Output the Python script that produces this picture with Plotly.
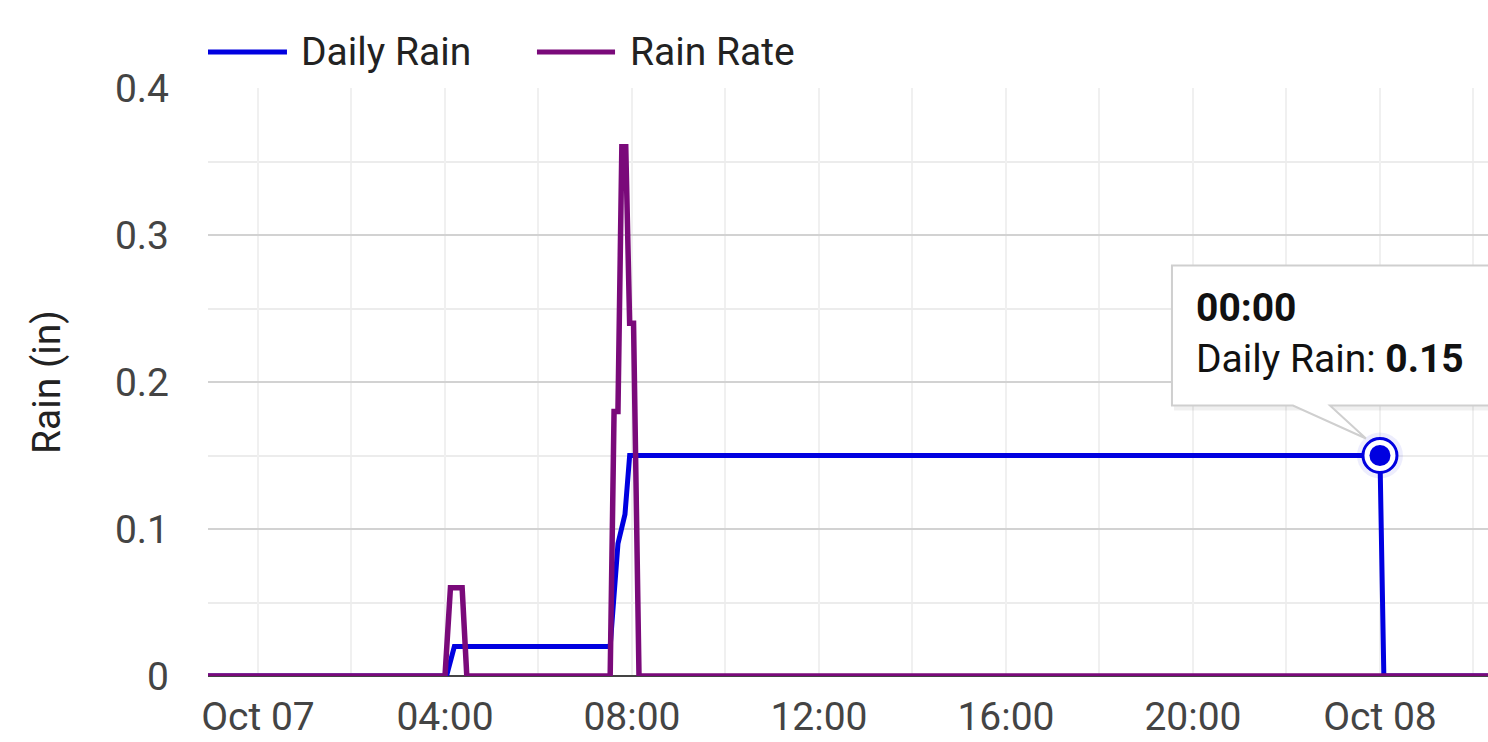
import plotly.graph_objects as go

# ---------------- data ----------------
rate_time = ["2023-10-06 22:40", "2023-10-07 04:00", "2023-10-07 04:07", "2023-10-07 04:22",
             "2023-10-07 04:28", "2023-10-07 07:32", "2023-10-07 07:37", "2023-10-07 07:42",
             "2023-10-07 07:47", "2023-10-07 07:52", "2023-10-07 07:57", "2023-10-07 08:02",
             "2023-10-07 08:09", "2023-10-08 02:40"]
rate_vals = [0, 0, 0.06, 0.06, 0, 0, 0.18, 0.18, 0.36, 0.36, 0.24, 0.24, 0, 0]

daily_time = ["2023-10-06 22:40", "2023-10-07 04:02", "2023-10-07 04:12", "2023-10-07 07:32",
              "2023-10-07 07:42", "2023-10-07 07:51", "2023-10-07 07:57", "2023-10-08 00:00",
              "2023-10-08 00:05", "2023-10-08 02:40"]
daily_vals = [0, 0, 0.02, 0.02, 0.09, 0.11, 0.15, 0.15, 0, 0]

hover_idx = 7  # highlighted Daily Rain point (tooltip)
hover_label = "00:00"

x_tickvals = ["2023-10-07 00:00", "2023-10-07 04:00", "2023-10-07 08:00", "2023-10-07 12:00",
              "2023-10-07 16:00", "2023-10-07 20:00", "2023-10-08 00:00"]
x_ticktext = ["Oct 07", "04:00", "08:00", "12:00", "16:00", "20:00", "Oct 08"]
x_range = ["2023-10-06 22:55:50", "2023-10-08 02:18:40"]
y_range = [0, 0.4]

series_names = ["Daily Rain", "Rain Rate"]
series_colors = ["#0000e0", "#7a0a7a"]

FONT = "Roboto"
FS = 39

fig = go.Figure()

fig.add_trace(go.Scatter(x=daily_time, y=daily_vals, mode="lines", name=series_names[0],
                         line=dict(color=series_colors[0], width=5), showlegend=False))
fig.add_trace(go.Scatter(x=rate_time, y=rate_vals, mode="lines", name=series_names[1],
                         line=dict(color=series_colors[1], width=5.5), showlegend=False))

# highlighted marker (halo, ring, dot)
hx, hy = daily_time[hover_idx], daily_vals[hover_idx]
fig.add_trace(go.Scatter(x=[hx], y=[hy], mode="markers", showlegend=False,
                         marker=dict(size=46, color="rgba(0,0,224,0.07)", line=dict(width=0))))
fig.add_trace(go.Scatter(x=[hx], y=[hy], mode="markers", showlegend=False,
                         marker=dict(size=34, color="white", line=dict(width=3, color=series_colors[0]))))
fig.add_trace(go.Scatter(x=[hx], y=[hy], mode="markers", showlegend=False,
                         marker=dict(size=21, color=series_colors[0], line=dict(width=0))))

shapes = []
# tooltip shadow + box with pointer, anchored at the highlighted point (pixel offsets, +y up)
shadow_path = "M -206,186 L 150,186 L 150,45 L -206,45 Z"
box_path = "M -208,190 L 150,190 L 150,50 L -50,50 L -14,17 L -87,50 L -208,50 Z"
shapes.append(dict(type="path", xref="x", yref="y", xsizemode="pixel", ysizemode="pixel",
                   xanchor=hx, yanchor=hy, path=shadow_path,
                   fillcolor="rgba(0,0,0,0.06)", line=dict(width=0), layer="above"))
shapes.append(dict(type="path", xref="x", yref="y", xsizemode="pixel", ysizemode="pixel",
                   xanchor=hx, yanchor=hy, path=box_path,
                   fillcolor="white", line=dict(color="#cfcfcf", width=2), layer="above"))

# custom legend
leg_items = [(0.0, 0.0617, 0.0711), (0.257, 0.318, 0.328)]
annotations = []
for (x0, x1, xt), name, col in zip(leg_items, series_names, series_colors):
    shapes.append(dict(type="line", xref="paper", yref="paper", x0=x0, x1=x1, y0=1.0612, y1=1.0612,
                       line=dict(color=col, width=5)))
    annotations.append(dict(xref="paper", yref="paper", x=xt, y=1.0612, xanchor="left", yanchor="middle",
                            text=name, showarrow=False, font=dict(family=FONT, size=FS, color="#222222")))

annotations.append(dict(x=hx, y=hy, xref="x", yref="y", xanchor="left", yanchor="middle",
                        xshift=-186, yshift=122, showarrow=False, align="left",
                        text=f"<b>{hover_label}</b><br>{series_names[0]}: <b>{daily_vals[hover_idx]:.2f}</b>",
                        font=dict(family=FONT, size=FS, color="#111111")))

fig.update_layout(
    width=1488, height=742,
    margin=dict(l=208, r=0, t=88, b=66, autoexpand=False),
    paper_bgcolor="white", plot_bgcolor="white",
    font=dict(family=FONT, size=FS, color="#444444"),
    shapes=shapes, annotations=annotations,
    showlegend=False,
)
fig.update_xaxes(
    type="date", range=x_range, tickvals=x_tickvals, ticktext=x_ticktext, automargin=False,
    showgrid=True, gridcolor="#f0f0f0", gridwidth=2,
    minor=dict(dtick=2 * 3600 * 1000, tick0="2023-10-07 00:00", showgrid=True, gridcolor="#f0f0f0", gridwidth=2),
    showline=False, zeroline=False, ticks="", ticklabelstandoff=14,
    tickfont=dict(family=FONT, size=FS, color="#444444"),
)
fig.update_yaxes(
    range=y_range, dtick=0.1, tick0=0, automargin=False,
    showgrid=True, gridcolor="#d2d2d2", gridwidth=2,
    minor=dict(dtick=0.05, showgrid=True, gridcolor="#ececec", gridwidth=2),
    zeroline=True, zerolinecolor="#444444", zerolinewidth=2,
    ticks="", ticklabelstandoff=38,
    tickfont=dict(family=FONT, size=FS, color="#444444"),
    title=dict(text="Rain (in)", font=dict(family=FONT, size=FS, color="#222222"), standoff=42),
)

fig.write_html("out.html", config={"displayModeBar": False},
               post_script="document.body.style.margin='0px';document.body.style.overflow='hidden';")
